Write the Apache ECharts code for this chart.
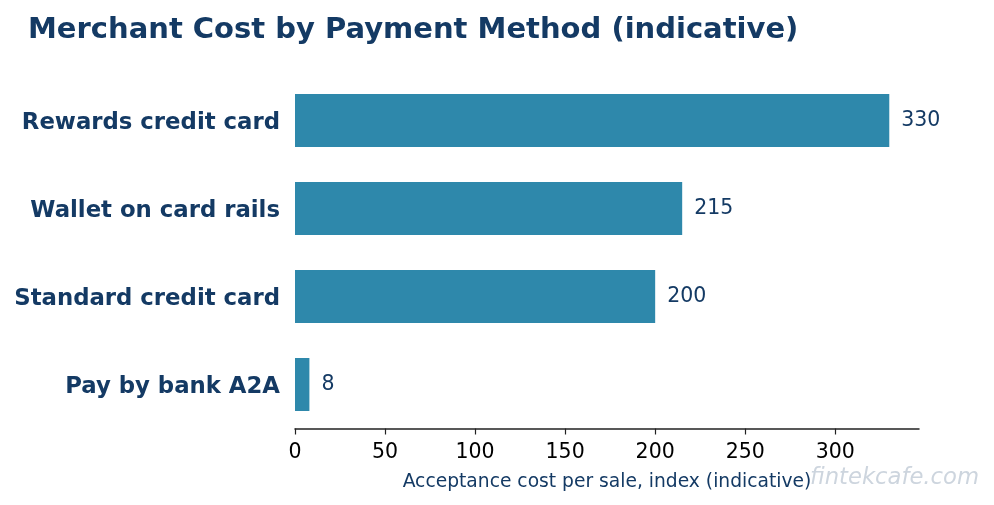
<!DOCTYPE html>
<html>
<head>
<meta charset="utf-8">
<script src="https://cdn.jsdelivr.net/npm/echarts@6/dist/echarts.min.js"></script>
<style>
  html, body { margin: 0; padding: 0; background: #fff; }
  #chart { width: 994px; height: 505px; }
</style>
</head>
<body>
<div id="chart"></div>
<script>
const methods = ['Pay by bank A2A', 'Standard credit card', 'Wallet on card rails', 'Rewards credit card'];
const costIndex = [8, 200, 215, 330];
const xTicks = [0, 50, 100, 150, 200, 250, 300];

const navy = '#143a64';
const chart = echarts.init(document.getElementById('chart'));

const option = {
  backgroundColor: '#fff',
  animation: false,
  title: {
    text: 'Merchant Cost by Payment Method (indicative)',
    left: 23,
    top: 11,
    textStyle: { color: navy, fontSize: 29, fontWeight: 'bold', fontFamily: 'DejaVu Sans' }
  },
  grid: { left: 295, right: 75, top: 76.5, bottom: 76.5 },
  xAxis: {
    type: 'value',
    min: 0,
    max: 346.5,
    interval: 50,
    name: 'Acceptance cost per sale, index (indicative)',
    nameLocation: 'middle',
    nameGap: 44,
    nameTextStyle: { color: navy, fontSize: 18.7, fontFamily: 'DejaVu Sans' },
    axisLine: { show: true, lineStyle: { color: '#222', width: 1.5 } },
    axisTick: { show: true, length: 6, lineStyle: { color: '#222', width: 1.2 } },
    axisLabel: {
      color: '#000',
      fontSize: 20.5,
      fontFamily: 'DejaVu Sans',
      margin: 14,
      showMaxLabel: false,
      formatter: v => (xTicks.includes(v) ? String(v) : '')
    },
    splitLine: { show: false }
  },
  yAxis: {
    type: 'category',
    data: methods,
    axisLine: { show: false },
    axisTick: { show: false },
    axisLabel: {
      margin: 15,
      formatter: v => '{m|' + v + '}',
      rich: {
        m: {
          color: navy,
          fontSize: 22.8,
          fontWeight: 'bold',
          fontFamily: 'DejaVu Sans',
          padding: [6, 0, 0, 0]
        }
      }
    }
  },
  series: [{
    type: 'bar',
    data: costIndex,
    barWidth: 53,
    itemStyle: { color: '#2e88ab' },
    label: {
      show: true,
      position: 'right',
      distance: 12,
      color: navy,
      fontSize: 20.5,
      fontFamily: 'DejaVu Sans'
    }
  }],
  graphic: [{
    type: 'text',
    left: 810,
    top: 467,
    style: {
      text: 'fintekcafe.com',
      fill: '#cdd5de',
      font: 'italic 22.7px "DejaVu Sans"'
    }
  }]
};

chart.setOption(option);
</script>
</body>
</html>
